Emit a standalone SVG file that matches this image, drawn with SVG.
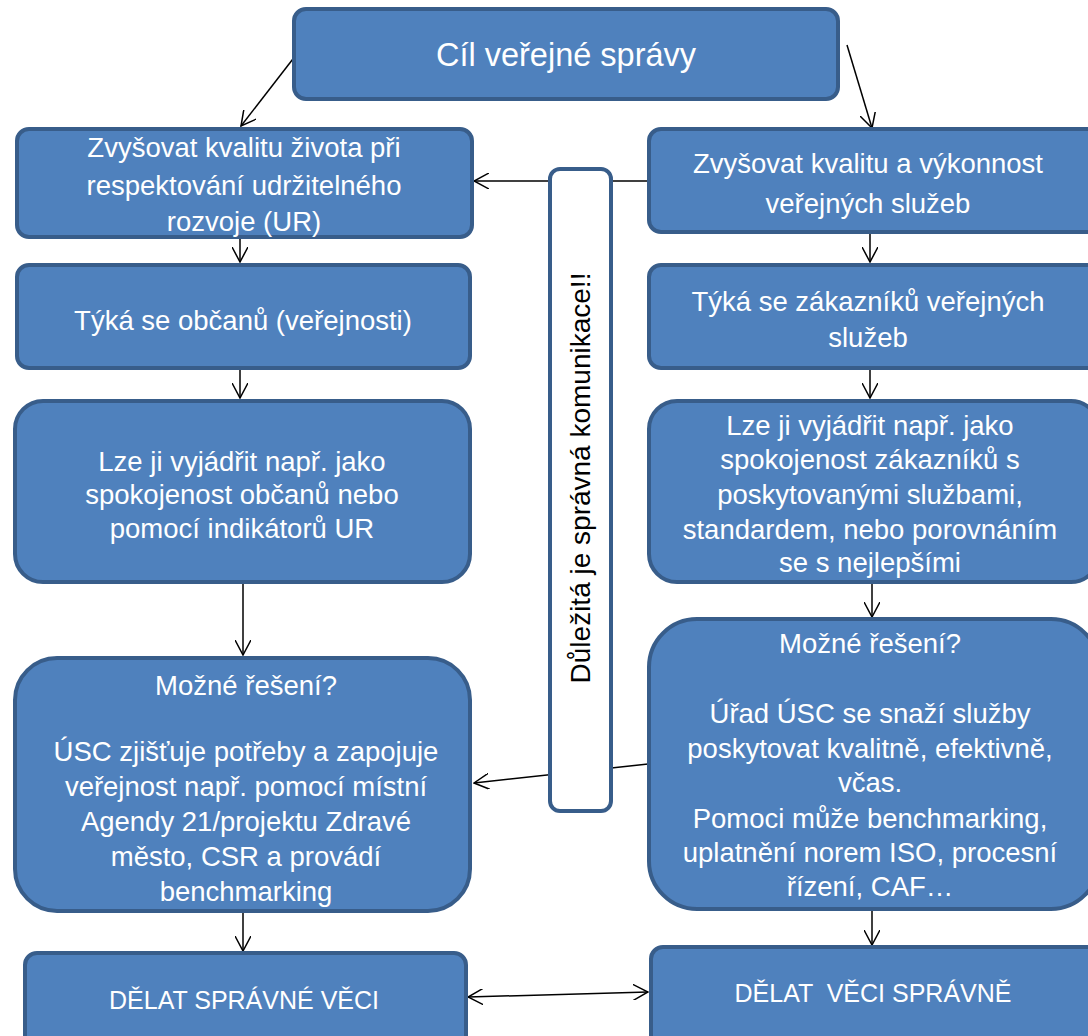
<svg xmlns="http://www.w3.org/2000/svg" width="1088" height="1036" viewBox="0 0 1088 1036">
<defs>
<style>
.box{fill:#4f81bd;stroke:#385d8a;stroke-width:4}
.t{fill:#fff;font-family:"Liberation Sans",Arial,sans-serif;font-size:27.5px;text-anchor:middle}
.big{font-size:32.5px}
.caps{font-size:25px}
.c{stroke:#000;stroke-width:1.5;fill:none}
</style>
<marker id="ahl" viewBox="0 0 16 16" refX="15" refY="8" markerWidth="16" markerHeight="16" markerUnits="userSpaceOnUse" orient="auto-start-reverse">
<path d="M0,0 L15,8 L0,16" fill="none" stroke="#000" stroke-width="1.5"/>
</marker>
</defs>
<rect width="1088" height="1036" fill="#fff"/>

<g id="connectors">
<line class="c" x1="296" y1="55" x2="241" y2="126" marker-end="url(#ahl)"/>
<line class="c" x1="847" y1="45" x2="872" y2="128" marker-end="url(#ahl)"/>
<line class="c" x1="648" y1="181" x2="474" y2="181" marker-end="url(#ahl)"/>
<line class="c" x1="240" y1="238" x2="240" y2="262" marker-end="url(#ahl)"/>
<line class="c" x1="870" y1="234" x2="870" y2="262" marker-end="url(#ahl)"/>
<line class="c" x1="240" y1="370" x2="240" y2="398" marker-end="url(#ahl)"/>
<line class="c" x1="870" y1="370" x2="870" y2="398" marker-end="url(#ahl)"/>
<line class="c" x1="243" y1="584" x2="243" y2="655" marker-end="url(#ahl)"/>
<line class="c" x1="872" y1="584" x2="872" y2="617" marker-end="url(#ahl)"/>
<line class="c" x1="648" y1="764" x2="474" y2="783" marker-end="url(#ahl)"/>
<line class="c" x1="243" y1="913" x2="243" y2="951" marker-end="url(#ahl)"/>
<line class="c" x1="872" y1="908" x2="872" y2="945" marker-end="url(#ahl)"/>
<line class="c" x1="468" y1="997" x2="648" y2="992" stroke-width="2" marker-start="url(#ahl)" marker-end="url(#ahl)"/>
</g>

<g id="top">
<rect class="box" x="294" y="9" width="544" height="90" rx="12"/>
<text class="t big" x="566" y="66">Cíl veřejné správy</text>
</g>

<g id="left1">
<rect class="box" x="17" y="129" width="455" height="108" rx="12"/>
<text class="t" x="244" y="157">Zvyšovat kvalitu života při</text>
<text class="t" x="244" y="195">respektování udržitelného</text>
<text class="t" x="244" y="231">rozvoje (UR)</text>
</g>

<g id="right1">
<rect class="box" x="649" y="129" width="450" height="103" rx="12"/>
<text class="t" x="868" y="173">Zvyšovat kvalitu a výkonnost</text>
<text class="t" x="868" y="213">veřejných služeb</text>
</g>

<g id="left2">
<rect class="box" x="17" y="265" width="453" height="103" rx="12"/>
<text class="t" x="243" y="330">Týká se občanů (veřejnosti)</text>
</g>

<g id="right2">
<rect class="box" x="649" y="265" width="450" height="103" rx="12"/>
<text class="t" x="868" y="311">Týká se zákazníků veřejných</text>
<text class="t" x="868" y="347">služeb</text>
</g>

<g id="left3">
<rect class="box" x="15" y="401" width="455" height="181" rx="28"/>
<text class="t" x="242" y="471">Lze ji vyjádřit např. jako</text>
<text class="t" x="242" y="504">spokojenost občanů nebo</text>
<text class="t" x="242" y="538">pomocí indikátorů UR</text>
</g>

<g id="right3">
<rect class="box" x="649" y="401" width="450" height="181" rx="28"/>
<text class="t" x="870" y="435">Lze ji vyjádřit např. jako</text>
<text class="t" x="870" y="469">spokojenost zákazníků s</text>
<text class="t" x="870" y="504">poskytovanými službami,</text>
<text class="t" x="870" y="539">standardem, nebo porovnáním</text>
<text class="t" x="870" y="572">se s nejlepšími</text>
</g>

<g id="left4">
<rect class="box" x="15" y="658" width="455" height="253" rx="42"/>
<text class="t" x="246" y="695">Možné řešení?</text>
<text class="t" x="246" y="761">ÚSC zjišťuje potřeby a zapojuje</text>
<text class="t" x="246" y="796">veřejnost např. pomocí místní</text>
<text class="t" x="246" y="831">Agendy 21/projektu Zdravé</text>
<text class="t" x="246" y="866">město, CSR a provádí</text>
<text class="t" x="246" y="901">benchmarking</text>
</g>

<g id="right4">
<rect class="box" x="649" y="619" width="450" height="290" rx="48"/>
<text class="t" x="870" y="653">Možné řešení?</text>
<text class="t" x="870" y="723">Úřad ÚSC se snaží služby</text>
<text class="t" x="870" y="758">poskytovat kvalitně, efektivně,</text>
<text class="t" x="870" y="792">včas.</text>
<text class="t" x="870" y="828">Pomoci může benchmarking,</text>
<text class="t" x="870" y="862">uplatnění norem ISO, procesní</text>
<text class="t" x="870" y="896">řízení, CAF…</text>
</g>

<g id="left5">
<rect class="box" x="25" y="953" width="441" height="100" rx="12"/>
<text class="t caps" x="244" y="1009">DĚLAT SPRÁVNÉ VĚCI</text>
</g>

<g id="right5">
<rect class="box" x="651" y="947" width="450" height="100" rx="12"/>
<text class="t caps" x="873" y="1002" xml:space="preserve">DĚLAT  VĚCI SPRÁVNĚ</text>
</g>

<g id="note">
<rect x="550" y="169" width="61" height="642" rx="10" fill="#fff" stroke="#385d8a" stroke-width="4"/>
<text x="580" y="478" transform="rotate(-90 580 478)" text-anchor="middle" dominant-baseline="central" font-family="Liberation Sans,Arial,sans-serif" font-size="28" fill="#000">Důležitá je správná komunikace!!</text>
</g>
</svg>
